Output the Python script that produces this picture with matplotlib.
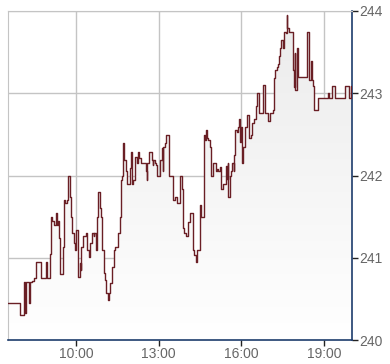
import numpy as np
import matplotlib
matplotlib.use("Agg")
import matplotlib.pyplot as plt
from matplotlib.colors import LinearSegmentedColormap

# intraday price, step changes (time of change, new price)
times = [
    "07:32", "07:59", "08:07", "08:09", "08:11", "08:17", "08:20", "08:24", "08:29", "08:32",
    "08:44", "08:55", "08:56", "09:04", "09:06", "09:08", "09:12", "09:17", "09:19", "09:21",
    "09:24", "09:26", "09:32", "09:35", "09:36", "09:40", "09:43", "09:46", "09:49", "09:52",
    "09:55", "09:58", "10:01", "10:04", "10:05", "10:08", "10:11", "10:12", "10:15", "10:21",
    "10:24", "10:28", "10:31", "10:34", "10:39", "10:40", "10:43", "10:46", "10:49", "10:52",
    "10:54", "10:57", "11:00", "11:03", "11:06", "11:09", "11:12", "11:15", "11:18", "11:22",
    "11:26", "11:31", "11:35", "11:38", "11:41", "11:42", "11:44", "11:49", "11:52", "11:58",
    "11:59", "12:02", "12:05", "12:08", "12:09", "12:12", "12:15", "12:18", "12:21", "12:32",
    "12:34", "12:35", "12:38", "12:45", "12:47", "12:48", "12:51", "12:54", "12:57", "13:04",
    "13:07", "13:09", "13:10", "13:13", "13:16", "13:22", "13:31", "13:35", "13:40", "13:47",
    "13:50", "13:53", "13:56", "13:59", "14:03", "14:09", "14:15", "14:18", "14:21", "14:23",
    "14:29", "14:32", "14:38", "14:41", "14:44", "14:46", "14:48", "14:51", "14:54", "14:58",
    "15:04", "15:07", "15:10", "15:13", "15:16", "15:20", "15:26", "15:29", "15:31", "15:32",
    "15:35", "15:37", "15:40", "15:43", "15:44", "15:47", "15:50", "15:53", "15:56", "15:57",
    "16:00", "16:02", "16:03", "16:08", "16:12", "16:17", "16:21", "16:23", "16:27", "16:32",
    "16:35", "16:38", "16:48", "16:52", "16:59", "17:02", "17:09", "17:12", "17:14", "17:17",
    "17:20", "17:21", "17:24", "17:27", "17:30", "17:33", "17:34", "17:37", "17:39", "17:40",
    "17:43", "17:47", "17:52", "17:55", "17:56", "17:57", "18:02", "18:03", "18:22", "18:28",
    "18:31", "18:34", "18:35", "18:38", "18:47", "19:09", "19:11", "19:17", "19:24", "19:45",
    "19:55", "19:59", "20:01",
]
prices = [
    240.45, 240.30, 240.70, 240.33, 240.70, 240.45, 240.70, 240.72, 240.75, 240.95,
    240.75, 240.95, 240.75, 241.05, 241.50, 241.45, 241.40, 241.55, 241.40, 241.45,
    241.24, 240.80, 241.13, 241.70, 241.67, 241.70, 241.99, 241.74, 241.50, 241.30,
    241.18, 241.10, 241.34, 241.30, 240.77, 240.94, 240.85, 241.13, 241.26, 241.30,
    241.10, 241.01, 241.18, 241.30, 241.26, 241.30, 241.10, 241.50, 241.80, 241.60,
    241.50, 241.10, 240.81, 240.73, 240.57, 240.49, 240.57, 240.69, 240.89, 241.10,
    241.13, 241.30, 241.50, 241.95, 241.99, 242.40, 242.19, 242.05, 241.90, 242.09,
    242.29, 241.90, 241.95, 242.07, 242.23, 242.15, 242.29, 242.21, 242.15, 242.05,
    241.95, 242.15, 242.29, 242.19, 242.13, 242.19, 242.15, 242.13, 241.99, 242.19,
    242.33, 242.05, 242.35, 242.39, 242.49, 241.99, 241.70, 241.74, 241.66, 242.00,
    241.84, 241.36, 241.30, 241.26, 241.44, 241.54, 241.10, 241.03, 240.95, 241.10,
    241.64, 241.50, 242.49, 242.43, 242.55, 242.45, 242.43, 242.35, 241.99, 242.15,
    242.05, 242.08, 242.05, 242.10, 241.84, 241.90, 242.11, 241.96, 242.15, 241.74,
    241.99, 242.05, 242.15, 242.05, 242.25, 242.55, 242.53, 242.59, 242.69, 242.41,
    242.59, 242.15, 242.35, 242.59, 242.74, 242.45, 242.49, 242.64, 242.69, 242.84,
    243.00, 242.76, 243.10, 242.76, 242.66, 242.76, 242.80, 243.18, 243.28, 243.32,
    243.36, 243.45, 243.55, 243.65, 243.55, 243.65, 243.75, 243.73, 243.95, 243.79,
    243.75, 243.74, 243.28, 243.08, 243.49, 243.04, 243.55, 243.20, 243.74, 243.16,
    243.39, 243.16, 243.09, 242.80, 242.94, 243.00, 242.94, 243.09, 242.94, 243.09,
    242.94, 243.09, 243.09,
]
x_ticks = ["10:00", "13:00", "16:00", "19:00"]
y_ticks = [240, 241, 242, 243, 244]


def to_hours(s):
    h, m = s.split(":")
    return int(h) + int(m) / 60.0


t = np.array([to_hours(s) for s in times])
p = np.array(prices)

line_color = "#6a1f25"
axis_color = "#1d3c6c"
grid_color = "#c4c4c4"
label_color = "#666666"

fig = plt.figure(figsize=(3.9, 3.64), dpi=100)
ax = fig.add_axes([8 / 390, 24 / 364, 344 / 390, 329 / 364])

x0, x1 = to_hours("07:32"), to_hours("20:01")
y0, y1 = 240, 244
ax.set_xlim(x0, x1)
ax.set_ylim(y0, y1)

# gradient fill under the step line
cmap = LinearSegmentedColormap.from_list("fade", ["#ffffff", "#ebebeb"])
grad = np.linspace(0, 1, 256).reshape(-1, 1)
img = ax.imshow(grad, extent=[x0, x1, y0, y1], origin="lower", aspect="auto",
                cmap=cmap, zorder=1)
fill = ax.fill_between(t, p, y0, step="post", facecolor="none", edgecolor="none")
path = fill.get_paths()[0]
img.set_clip_path(path, transform=ax.transData)

ax.step(t, p, where="post", color=line_color, lw=1.0, zorder=3)

# grid
ax.set_xticks([to_hours(s) for s in x_ticks])
ax.set_xticklabels(x_ticks)
ax.set_yticks(y_ticks)
ax.set_yticklabels([str(v) for v in y_ticks])
ax.grid(True, color=grid_color, lw=1.0, zorder=0)
ax.set_axisbelow(True)

ax.yaxis.tick_right()
ax.tick_params(axis="both", colors="#222222", labelcolor=label_color,
               labelsize=10, length=4, width=1, pad=1)
for lab in ax.get_xticklabels() + ax.get_yticklabels():
    lab.set_family(["Liberation Sans", "DejaVu Sans"])

ax.spines["right"].set_color(axis_color)
ax.spines["bottom"].set_color(axis_color)
ax.spines["right"].set_linewidth(1.2)
ax.spines["bottom"].set_linewidth(1.2)
ax.spines["left"].set_color(grid_color)
ax.spines["top"].set_color(grid_color)

fig.savefig("out.png", dpi=100, facecolor="white")
